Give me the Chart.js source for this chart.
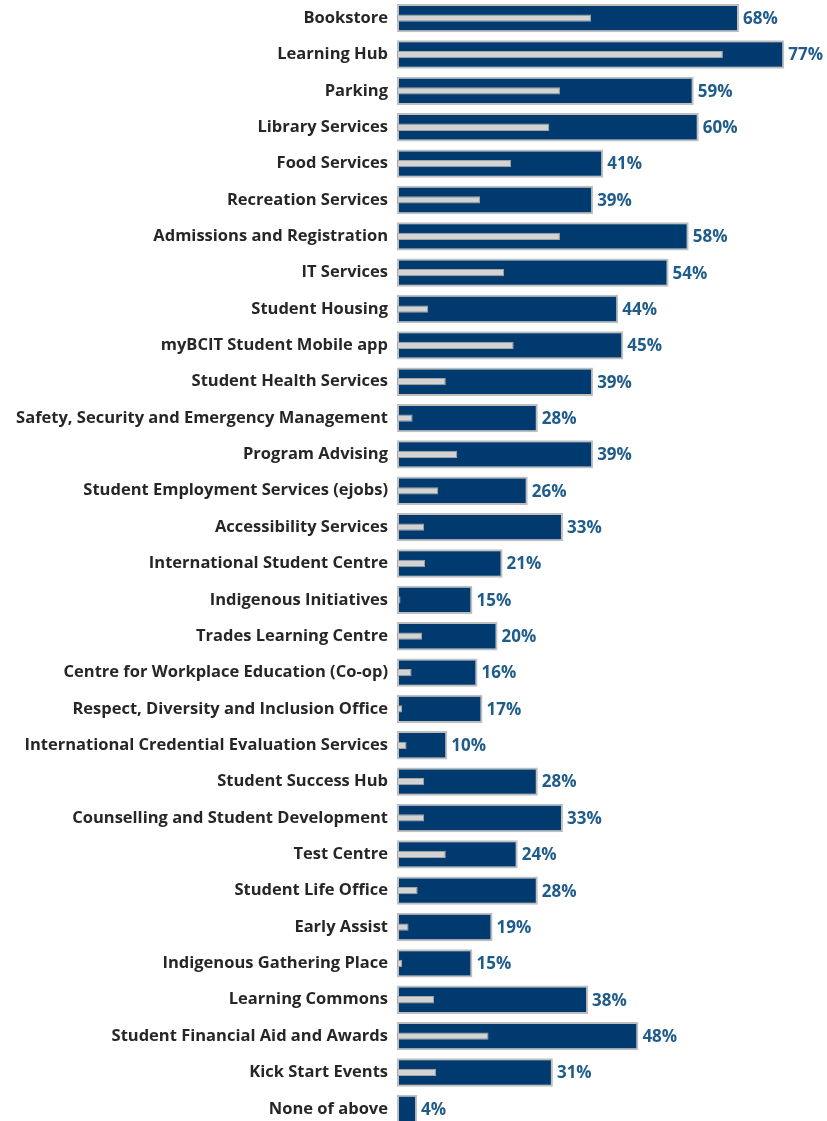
<!DOCTYPE html>
<html>
<head>
<meta charset="utf-8">
<script src="https://cdn.jsdelivr.net/npm/chart.js@4.4.1/dist/chart.umd.min.js"></script>
<style>
  html, body { margin: 0; padding: 0; background: #fff; overflow: hidden; }
  #wrap { width: 827px; height: 1127px; }
</style>
</head>
<body>
<div id="wrap"><canvas id="chart" width="827" height="1127"></canvas></div>
<script>
const services = [
  'Bookstore', 'Learning Hub', 'Parking', 'Library Services', 'Food Services',
  'Recreation Services', 'Admissions and Registration', 'IT Services', 'Student Housing',
  'myBCIT Student Mobile app', 'Student Health Services',
  'Safety, Security and Emergency Management', 'Program Advising',
  'Student Employment Services (ejobs)', 'Accessibility Services',
  'International Student Centre', 'Indigenous Initiatives', 'Trades Learning Centre',
  'Centre for Workplace Education (Co-op)', 'Respect, Diversity and Inclusion Office',
  'International Credential Evaluation Services', 'Student Success Hub',
  'Counselling and Student Development', 'Test Centre', 'Student Life Office',
  'Early Assist', 'Indigenous Gathering Place', 'Learning Commons',
  'Student Financial Aid and Awards', 'Kick Start Events', 'None of above'
];

// share of students aware of each service (navy bars)
const aware = [68, 77, 59, 60, 41, 39, 58, 54, 44, 45, 39, 28, 39, 26, 33, 21, 15, 20, 16, 17, 10, 28, 33, 24, 28, 19, 15, 38, 48, 31, 4];

// share of students who used each service (thin grey bars)
const used = [38.6, 64.8, 32.4, 30.3, 22.7, 16.5, 32.4, 21.3, 6.2, 23.2, 9.7, 3.1, 12, 8.2, 5.4, 5.6, 0.7, 5, 2.9, 1, 1.9, 5.4, 5.4, 9.7, 4.1, 2.3, 1, 7.4, 18.2, 7.8, 0];

const FONT = '"Open Sans", Lato, sans-serif';

const valueLabels = {
  id: 'valueLabels',
  afterDatasetsDraw(chart) {
    const ctx = chart.ctx;
    const meta = chart.getDatasetMeta(1);
    ctx.save();
    ctx.font = 'bold 17px ' + FONT;
    ctx.fillStyle = '#1f5c8a';
    ctx.textAlign = 'left';
    ctx.textBaseline = 'middle';
    meta.data.forEach((bar, i) => {
      ctx.fillText(aware[i] + '%', bar.x + 4, bar.y + 1);
    });
    ctx.restore();
  }
};

new Chart(document.getElementById('chart'), {
  type: 'bar',
  data: {
    labels: services,
    datasets: [
      {
        label: 'Used',
        data: used,
        backgroundColor: '#d3d3d3',
        borderColor: '#a5a5a5',
        borderWidth: 1,
        borderSkipped: false,
        barPercentage: 0.2,
        categoryPercentage: 1,
        grouped: false,
        order: 0
      },
      {
        label: 'Aware',
        data: aware,
        backgroundColor: '#003a6e',
        borderColor: '#bfbfbf',
        borderWidth: 2,
        borderSkipped: false,
        barPercentage: 0.78,
        categoryPercentage: 1,
        grouped: false,
        order: 1
      }
    ]
  },
  options: {
    indexAxis: 'y',
    responsive: false,
    animation: false,
    layout: { padding: 0 },
    scales: {
      x: {
        display: false,
        min: 0,
        max: 85.5
      },
      y: {
        grid: { display: false, drawTicks: false },
        border: { display: false },
        afterFit(scale) {
          scale.width = 397;
          scale.paddingTop = 0;
          scale.paddingBottom = 0;
        },
        ticks: {
          padding: 9,
          color: '#262626',
          autoSkip: false,
          font: { family: FONT, size: 16.5, weight: 'bold' }
        }
      }
    },
    plugins: {
      legend: { display: false },
      tooltip: { enabled: false }
    }
  },
  plugins: [valueLabels]
});
</script>
</body>
</html>
